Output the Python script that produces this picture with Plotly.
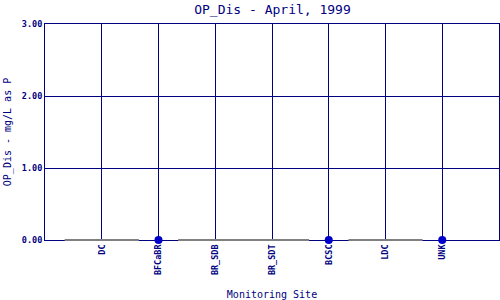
import plotly.graph_objects as go

sites = ["DC", "BFCaBR", "BR_SDB", "BR_SDT", "BCSC", "LDC", "UNK"]
values = [None, 0.0, None, None, 0.0, None, 0.0]
y_ticks = [0, 1, 2, 3]
y_tick_labels = ["0.00", "1.00", "2.00", "3.00"]

NAVY = "#000080"
MONO = "DejaVu Sans Mono"

measured_x = [s for s, v in zip(sites, values) if v is not None]
measured_y = [v for v in values if v is not None]
missing_x = [s for s, v in zip(sites, values) if v is None]
missing_y = [0.0 for _ in missing_x]

fig = go.Figure()
fig.add_trace(go.Scatter(
    x=missing_x, y=missing_y, mode="markers",
    marker=dict(symbol="line-ew", size=53, color="#808080",
                line=dict(color="#808080", width=2)),
    cliponaxis=False, hoverinfo="skip", showlegend=False))
fig.add_trace(go.Scatter(
    x=measured_x, y=measured_y, mode="markers",
    marker=dict(symbol="circle", size=8, color="#0000CC"),
    cliponaxis=False, showlegend=False))

fig.update_layout(
    width=500, height=300,
    margin=dict(l=45, r=1, t=24, b=60),
    paper_bgcolor="white", plot_bgcolor="white",
    title=dict(text="OP_Dis - April, 1999", x=0.545, xanchor="center",
               y=0.97, yanchor="middle",
               font=dict(family=MONO, size=13, color=NAVY)),
)
fig.update_xaxes(
    type="category", categoryorder="array", categoryarray=sites,
    range=[-1, 7], tickvals=sites, ticktext=sites,
    tickangle=-90,
    tickfont=dict(family=MONO, size=8.5, color=NAVY, weight="bold"),
    showgrid=True, gridcolor=NAVY, gridwidth=1,
    showline=True, linecolor=NAVY, linewidth=1, mirror=True,
    ticks="", zeroline=False, layer="below traces",
    title=dict(text="Monitoring Site", standoff=16,
               font=dict(family=MONO, size=10, color=NAVY)),
)
fig.update_yaxes(
    range=[0, 3], tickvals=y_ticks, ticktext=y_tick_labels,
    tickfont=dict(family=MONO, size=8.5, color=NAVY, weight="bold"),
    showgrid=True, gridcolor=NAVY, gridwidth=1,
    showline=True, linecolor=NAVY, linewidth=1, mirror=True,
    ticks="", zeroline=False, layer="below traces",
    title=dict(text="OP_Dis - mg/L as P", standoff=8,
               font=dict(family=MONO, size=10, color=NAVY)),
)

fig.write_html("out.html")
